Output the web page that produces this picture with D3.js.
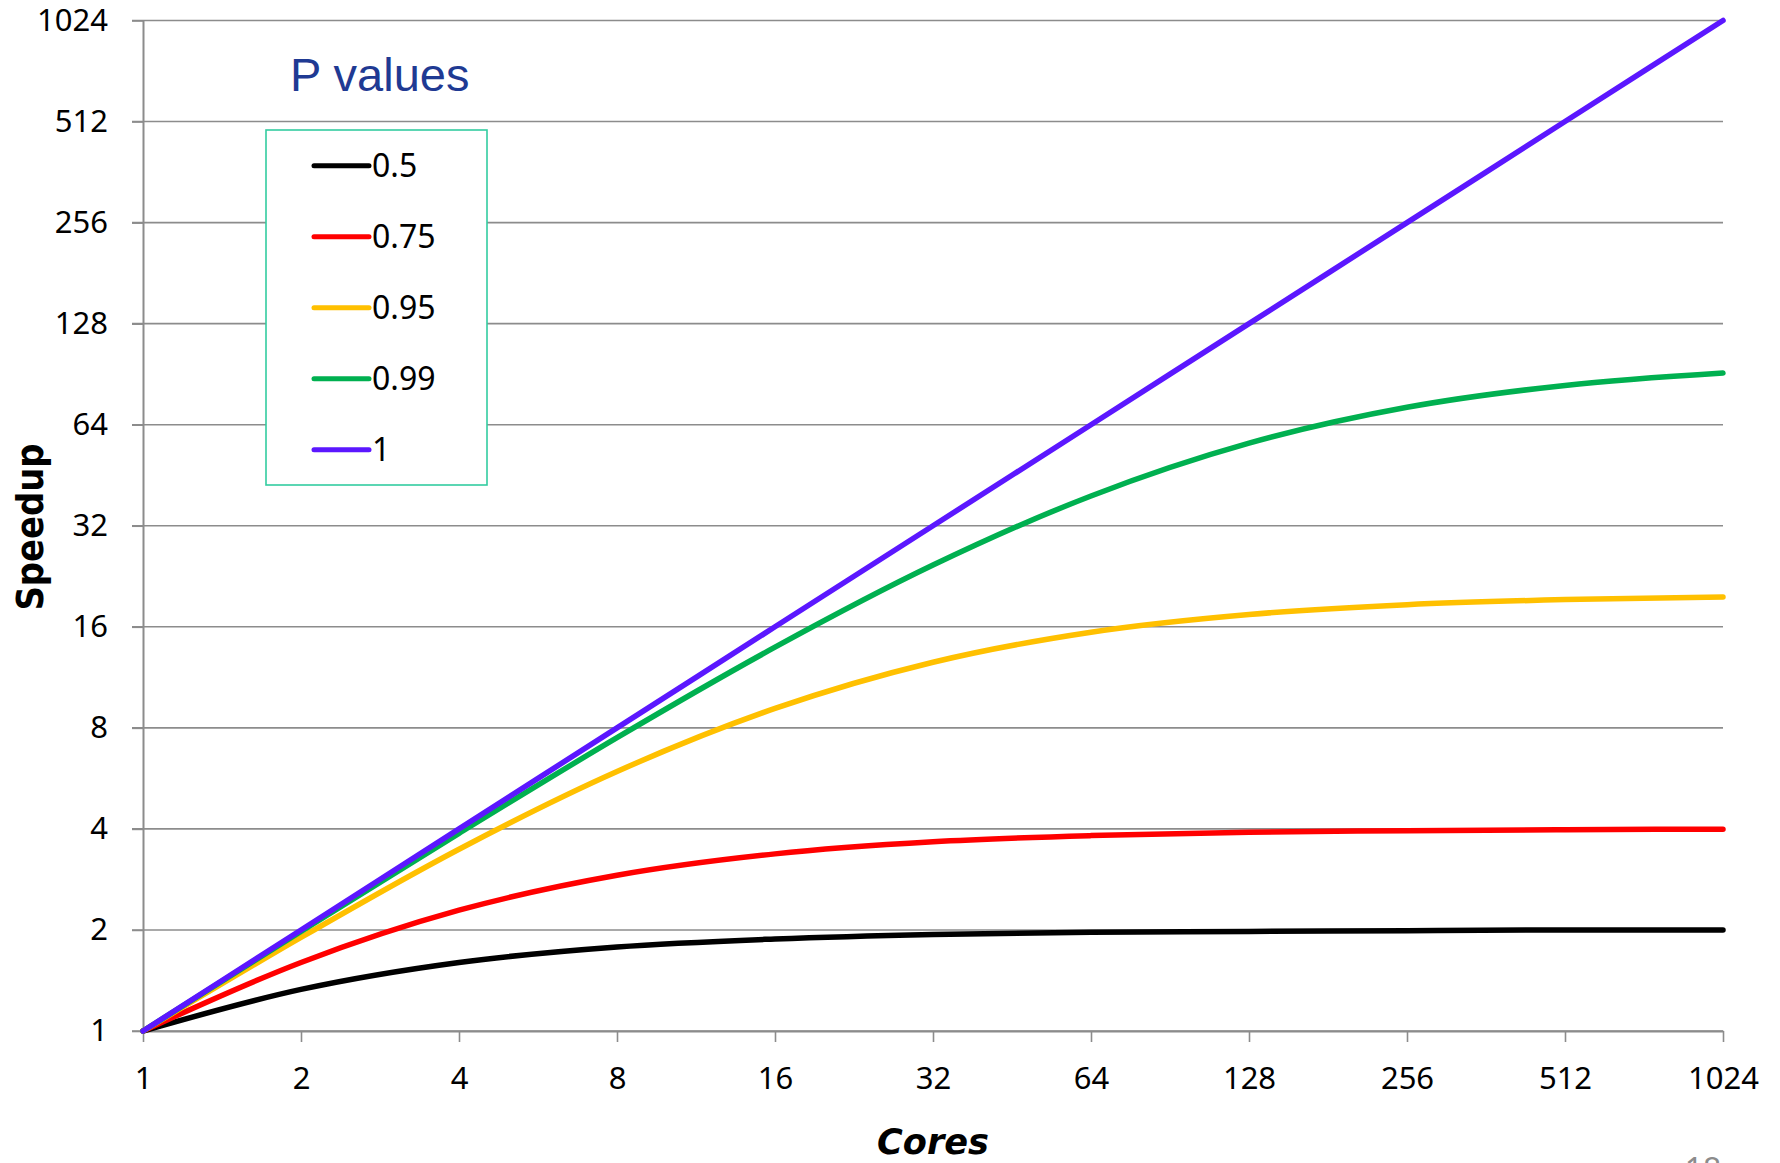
<!DOCTYPE html>
<html>
<head>
<meta charset="utf-8">
<script src="https://cdn.jsdelivr.net/npm/d3@7"></script>
<style>
  body { margin: 0; background: #fff; }
  text { font-family: "Comic Sans MS", "Noto Sans", sans-serif; }
</style>
</head>
<body>
<div id="chart"></div>
<script>
var svgWidth = 1780
var svgHeight = 1163

// cores on the x axis, speedup for each P value
var cores = [1, 2, 4, 8, 16, 32, 64, 128, 256, 512, 1024]
var p050 = [1, 1.33, 1.6, 1.78, 1.88, 1.94, 1.97, 1.98, 1.99, 2.0, 2.0]
var p075 = [1, 1.6, 2.29, 2.91, 3.37, 3.66, 3.82, 3.91, 3.95, 3.98, 3.99]
var p095 = [1, 1.9, 3.48, 5.93, 9.14, 12.55, 15.42, 17.41, 18.62, 19.28, 19.64]
var p099 = [1, 1.98, 3.88, 7.48, 13.91, 24.43, 39.26, 56.39, 72.11, 83.78, 91.18]
var p100 = [1, 2, 4, 8, 16, 32, 64, 128, 256, 512, 1024]

var seriesNames = ["0.5", "0.75", "0.95", "0.99", "1"]
var seriesValues = [p050, p075, p095, p099, p100]
var seriesColors = ["#000000", "#ff0000", "#ffc000", "#00b050", "#5b17ff"]
var yTicks = [1, 2, 4, 8, 16, 32, 64, 128, 256, 512, 1024]

var margin = { top: 20.5, right: 57, bottom: 132, left: 143 }
var chartWidth = svgWidth - margin.left - margin.right
var chartHeight = svgHeight - margin.top - margin.bottom

var svg = d3.select("#chart").append("svg")
    .attr("width", svgWidth).attr("height", svgHeight)
    .style("background", "#fff")

var chartGroup = svg.append("g").attr("transform", `translate(${margin.left}, ${margin.top})`)

var xScale = d3.scaleLog().base(2).domain([1, 1024]).range([0, chartWidth])
var yScale = d3.scaleLog().base(2).domain([1, 1024]).range([chartHeight, 0])

var gridColor = "#8c8c8c"

// horizontal gridlines (they run through the y ticks)
chartGroup.append("g").selectAll("line")
    .data(yTicks).enter().append("line")
    .attr("x1", -11).attr("x2", chartWidth)
    .attr("y1", d => yScale(d)).attr("y2", d => yScale(d))
    .attr("stroke", gridColor).attr("stroke-width", 1.6)

// y axis
var leftAxis = d3.axisLeft(yScale).tickValues(yTicks).tickFormat(d3.format("d"))
    .tickSize(11).tickPadding(24).tickSizeOuter(0)
var yAxisG = chartGroup.append("g").call(leftAxis)
yAxisG.select(".domain").attr("stroke", gridColor).attr("stroke-width", 2)
yAxisG.selectAll(".tick line").attr("stroke", gridColor).attr("stroke-width", 1.6)
yAxisG.selectAll("text").attr("font-size", "31px").attr("fill", "#000")
    .style("font-family", "'Comic Sans MS', 'Noto Sans', sans-serif")

// x axis
var bottomAxis = d3.axisBottom(xScale).tickValues(cores).tickFormat(d3.format("d"))
    .tickSize(11).tickPadding(25).tickSizeOuter(0)
var xAxisG = chartGroup.append("g").attr("transform", `translate(0, ${chartHeight})`).call(bottomAxis)
xAxisG.select(".domain").attr("stroke", gridColor).attr("stroke-width", 2)
xAxisG.selectAll(".tick line").attr("stroke", gridColor).attr("stroke-width", 1.6)
xAxisG.selectAll("text").attr("font-size", "31px").attr("fill", "#000")
    .style("font-family", "'Comic Sans MS', 'Noto Sans', sans-serif")

// curves
var line = d3.line()
    .x((d, i) => xScale(cores[i]))
    .y(d => yScale(d))
    .curve(d3.curveMonotoneX)

chartGroup.selectAll(".curve")
    .data(seriesValues).enter().append("path")
    .attr("class", "curve")
    .attr("d", d => line(d))
    .attr("fill", "none")
    .attr("stroke", (d, i) => seriesColors[i])
    .attr("stroke-width", 5.5)
    .attr("stroke-linecap", "round")
    .attr("stroke-linejoin", "round")

// axis titles
svg.append("text")
    .attr("transform", "translate(43, 527) rotate(-90)")
    .attr("text-anchor", "middle")
    .attr("font-size", "38px")
    .attr("font-weight", "bold")
    .attr("textLength", 167)
    .attr("lengthAdjust", "spacingAndGlyphs")
    .style("font-family", "'Comic Sans MS', 'DejaVu Sans', sans-serif")
    .text("Speedup")

svg.append("text")
    .attr("x", 877).attr("y", 1154)
    .attr("font-size", "35px")
    .attr("font-weight", "bold")
    .attr("font-style", "italic")
    .attr("textLength", 112)
    .attr("lengthAdjust", "spacingAndGlyphs")
    .style("font-family", "'Comic Sans MS', 'DejaVu Sans', sans-serif")
    .text("Cores")

// legend
svg.append("text")
    .attr("x", 290).attr("y", 91)
    .attr("font-size", "47px")
    .attr("fill", "#1f3a93")
    .style("font-family", "'Liberation Sans', Arial, sans-serif")
    .text("P values")

svg.append("rect")
    .attr("x", 266).attr("y", 130).attr("width", 221).attr("height", 355)
    .attr("fill", "#fff").attr("stroke", "#33cca0").attr("stroke-width", 1.6)

var legendItems = svg.append("g").selectAll("g")
    .data(seriesNames).enter().append("g")
    .attr("transform", (d, i) => `translate(314, ${165.7 + i * 71})`)

legendItems.append("line")
    .attr("x1", 0).attr("x2", 55)
    .attr("stroke", (d, i) => seriesColors[i])
    .attr("stroke-width", 5)
    .attr("stroke-linecap", "round")

legendItems.append("text")
    .attr("x", 58).attr("dy", "0.36em")
    .attr("font-size", "32px")
    .text(d => d)

// slide number, cut off at the bottom edge
svg.append("text")
    .attr("x", 1703).attr("y", 1181)
    .attr("text-anchor", "middle")
    .attr("font-size", "32px")
    .attr("fill", "#8c8c8c")
    .text("18")
</script>
</body>
</html>
